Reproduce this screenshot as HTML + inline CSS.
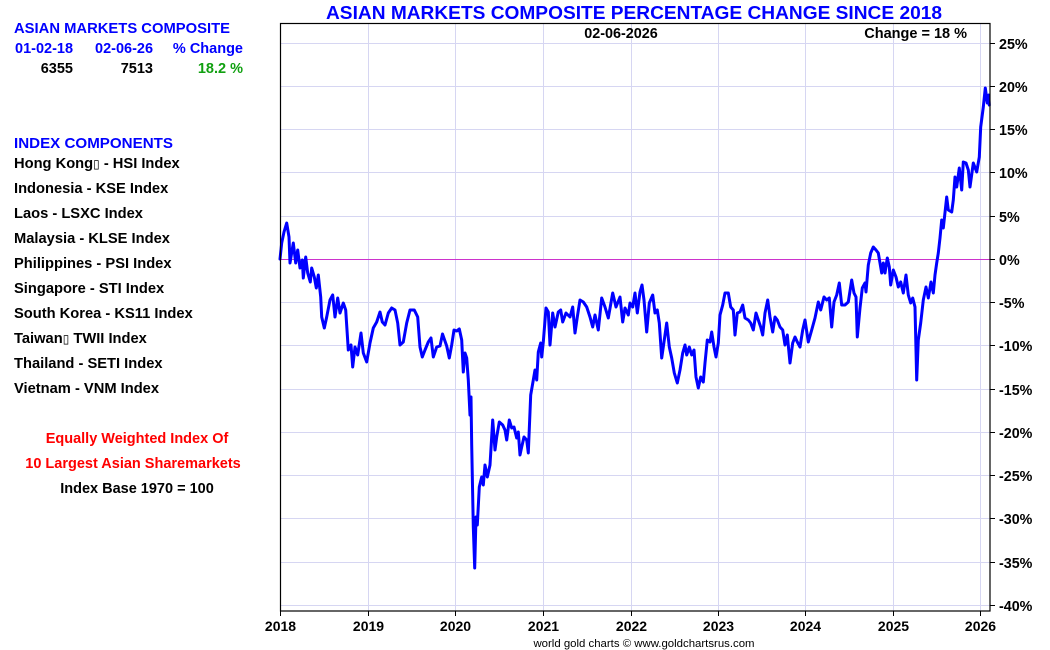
<!DOCTYPE html>
<html>
<head>
<meta charset="utf-8">
<style>
  html,body{margin:0;padding:0;background:#fff;}
  svg{display:block;}
  text{font-family:"Liberation Sans",Arial,sans-serif;}
</style>
</head>
<body>
<svg width="1050" height="650" viewBox="0 0 1050 650" xmlns="http://www.w3.org/2000/svg">
  <rect x="0" y="0" width="1050" height="650" fill="#fff"/>

  <!-- Left panel -->
  <g font-weight="bold">
    <text x="14" y="33" font-size="15" fill="#0000ff" textLength="216" lengthAdjust="spacingAndGlyphs">ASIAN MARKETS COMPOSITE</text>
    <text x="15" y="53" font-size="14.5" fill="#0000ff">01-02-18</text>
    <text x="95" y="53" font-size="14.5" fill="#0000ff">02-06-26</text>
    <text x="243" y="53" font-size="14.5" fill="#0000ff" text-anchor="end">% Change</text>
    <text x="73" y="73" font-size="14.5" fill="#000" text-anchor="end">6355</text>
    <text x="153" y="73" font-size="14.5" fill="#000" text-anchor="end">7513</text>
    <text x="243" y="73" font-size="14.5" fill="#10a010" text-anchor="end">18.2 %</text>

    <text x="14" y="148" font-size="15" fill="#0000ff" textLength="159" lengthAdjust="spacingAndGlyphs">INDEX COMPONENTS</text>
    <g font-size="14.7" fill="#000">
      <text x="14" y="168">Hong Kong<tspan font-family="DejaVu Sans" font-weight="normal" font-size="12">▯</tspan> - HSI Index</text>
      <text x="14" y="193">Indonesia - KSE Index</text>
      <text x="14" y="218">Laos - LSXC Index</text>
      <text x="14" y="243">Malaysia - KLSE Index</text>
      <text x="14" y="268">Philippines - PSI Index</text>
      <text x="14" y="293">Singapore - STI Index</text>
      <text x="14" y="318">South Korea - KS11 Index</text>
      <text x="14" y="343">Taiwan<tspan font-family="DejaVu Sans" font-weight="normal" font-size="12">▯</tspan> TWII Index</text>
      <text x="14" y="368">Thailand - SETI Index</text>
      <text x="14" y="393">Vietnam - VNM Index</text>
    </g>
    <text x="137" y="443" font-size="14.5" fill="#ff0000" text-anchor="middle">Equally Weighted Index Of</text>
    <text x="133" y="468" font-size="14.5" fill="#ff0000" text-anchor="middle">10 Largest Asian Sharemarkets</text>
    <text x="137" y="493" font-size="14.5" fill="#000" text-anchor="middle">Index Base 1970 = 100</text>
  </g>

  <!-- Title -->
  <text x="326" y="19" font-size="18" font-weight="bold" fill="#0000ff" textLength="616" lengthAdjust="spacingAndGlyphs">ASIAN MARKETS COMPOSITE PERCENTAGE CHANGE SINCE 2018</text>

  <!-- Grid -->
  <g stroke="#d6d6f2" stroke-width="1">
    <line x1="280" y1="43.5" x2="990" y2="43.5"/>
    <line x1="280" y1="86.5" x2="990" y2="86.5"/>
    <line x1="280" y1="129.5" x2="990" y2="129.5"/>
    <line x1="280" y1="172.5" x2="990" y2="172.5"/>
    <line x1="280" y1="216.5" x2="990" y2="216.5"/>
    <line x1="280" y1="302.5" x2="990" y2="302.5"/>
    <line x1="280" y1="345.5" x2="990" y2="345.5"/>
    <line x1="280" y1="389.5" x2="990" y2="389.5"/>
    <line x1="280" y1="432.5" x2="990" y2="432.5"/>
    <line x1="280" y1="475.5" x2="990" y2="475.5"/>
    <line x1="280" y1="518.5" x2="990" y2="518.5"/>
    <line x1="280" y1="562.5" x2="990" y2="562.5"/>
    <line x1="280" y1="605.5" x2="990" y2="605.5"/>
    <line x1="368.5" y1="23" x2="368.5" y2="611"/>
    <line x1="455.5" y1="23" x2="455.5" y2="611"/>
    <line x1="543.5" y1="23" x2="543.5" y2="611"/>
    <line x1="631.5" y1="23" x2="631.5" y2="611"/>
    <line x1="718.5" y1="23" x2="718.5" y2="611"/>
    <line x1="805.5" y1="23" x2="805.5" y2="611"/>
    <line x1="893.5" y1="23" x2="893.5" y2="611"/>
    <line x1="980.5" y1="23" x2="980.5" y2="611"/>
  </g>
  <!-- zero line -->
  <line x1="280" y1="259.5" x2="994" y2="259.5" stroke="#cc33cc" stroke-width="1"/>

  <!-- In-chart labels -->
  <text x="621" y="38" font-size="14.4" font-weight="bold" fill="#000" text-anchor="middle">02-06-2026</text>
  <text x="967" y="38" font-size="14.5" font-weight="bold" fill="#000" text-anchor="end">Change = 18 %</text>

  <!-- Data -->
  <polyline fill="none" stroke="#0000ff" stroke-width="3" stroke-linejoin="round" stroke-linecap="round" points="
280,259 281.7,243 284,232 286.7,223 289,237 290,263 293.3,243 295.7,263 297.7,250 300,268 302.3,260 303.3,278 305.7,257 307.7,273 310.3,282 311.7,268 314.3,277 316.3,288 318.3,275 320.7,297 321.7,317 324.3,328 326.7,317 330,300 332.7,295 335,317 337.7,298 340,313 343.3,303 345.7,310 348.3,350 351,345 352.7,367 355,347 357.7,355 361,333 363.3,353 366.7,362 370,343 373.3,328 376.7,322 380,312 382.3,322 385,325 388.3,313 391.7,308 395,310 397.7,323 400,345 403.3,342 406.7,323 410,310 414.3,310 417.7,317 420,347 422.3,357 425,350 428.3,342 431,338 433.3,357 436.7,347 440,346 442.5,334 446.7,346 449.3,358 451.7,345 454,330 456.7,331 459.3,329 461.7,340 463.3,372 465,353 466.7,358 468.3,380 470,415 471,397 471.7,445 473.3,527 474.7,568 476,517 477.3,525 479.3,487 481.7,477 483.3,485 485,465 487.3,477 490,465 492.7,420 495,450 496.7,437 499.3,422 502.7,425 505,430 506.7,440 509.3,420 511.7,428 514,427 516.7,438 518.3,432 520,455 521.7,447 524,437 526.7,440 528.3,453 530.7,395 533.3,380 535,370 536.7,380 538.3,352 540.7,343 541.7,357 543.3,342 546,308 548.3,312 550,345 552.7,313 555,327 558.3,312 560.7,310 562.7,322 566,313 570,317 572.7,307 575,333 577.3,317 580,300 583.3,302 586.7,307 590,317 592.7,327 595,315 598.3,330 601.7,298 605,307 608.3,318 612.7,293 616,307 620,297 622.7,322 625,308 628.3,315 630,303 632.7,307 635,293 637.3,313 640,292 642,285 644,300 646.7,332 649.3,303 652.7,295 655,313 657.3,310 659.3,323 661.7,358 664,342 666.7,323 669.3,347 671.7,358 674.3,373 677.3,383 680,370 682.7,353 685,345 686.7,355 689.3,347 691.7,355 694,350 696,377 698.3,388 700.7,377 703.3,382 705,363 707.3,340 710,342 711.7,332 714,347 716,357 718.3,343 720,315 722.7,305 725,293 728.3,293 730.7,307 733.3,310 735,335 737.3,313 740,312 742.7,305 745,318 748.3,320 750.7,323 753.3,330 756,313 758.3,320 760.7,327 762.7,335 765,313 767.7,300 770,317 772.7,332 775,317 777.3,320 780,327 782.7,330 785,345 787.3,335 790,363 792.7,343 795,337 797.3,342 800,347 802.7,330 805,320 808.3,342 811.7,330 815,318 818.3,302 820.7,310 824,297 826.7,300 829.3,298 831.7,327 834,302 836.7,295 839.3,283 841.7,305 845,305 848.3,302 851.7,280 854,293 856,297 857.3,337 860,308 862.3,288 865,283 866,292 868.3,265 870.7,253 873.3,247 876,250 878.3,253 880,263 881.7,273 883.3,263 885,273 887.3,258 889.3,267 890.7,285 893.3,270 896,277 898.3,287 900.7,282 903.3,293 906,275 908.3,295 910.7,303 912.7,298 915,307 916.7,380 918.3,340 920.7,323 923.3,300 926,287 928.3,298 931,282 933.3,293 935,275 936.7,263 938.3,253 940,238 941.7,220 943.3,228 946.7,197 948.3,210 951.7,212 953.3,200 955,177 956.7,187 959.3,168 961.7,190 963.3,162 966,163 968.3,170 970,187 973.3,163 976.7,172 979.3,157 980.7,127 983.3,107 985.3,88 987.3,103 988.7,95 989.3,105"/>

  <!-- Frame -->
  <rect x="280.5" y="23.5" width="709.5" height="587.5" fill="none" stroke="#000" stroke-width="1.2"/>

  <!-- Right ticks -->
  <g stroke="#000" stroke-width="1">
    <line x1="990" y1="43.5" x2="995" y2="43.5"/>
    <line x1="990" y1="86.5" x2="995" y2="86.5"/>
    <line x1="990" y1="129.5" x2="995" y2="129.5"/>
    <line x1="990" y1="172.5" x2="995" y2="172.5"/>
    <line x1="990" y1="216.5" x2="995" y2="216.5"/>
    <line x1="990" y1="259.5" x2="995" y2="259.5"/>
    <line x1="990" y1="302.5" x2="995" y2="302.5"/>
    <line x1="990" y1="345.5" x2="995" y2="345.5"/>
    <line x1="990" y1="389.5" x2="995" y2="389.5"/>
    <line x1="990" y1="432.5" x2="995" y2="432.5"/>
    <line x1="990" y1="475.5" x2="995" y2="475.5"/>
    <line x1="990" y1="518.5" x2="995" y2="518.5"/>
    <line x1="990" y1="562.5" x2="995" y2="562.5"/>
    <line x1="990" y1="605.5" x2="995" y2="605.5"/>
    <!-- bottom ticks -->
    <line x1="280.5" y1="611" x2="280.5" y2="616"/>
    <line x1="368.5" y1="611" x2="368.5" y2="616"/>
    <line x1="455.5" y1="611" x2="455.5" y2="616"/>
    <line x1="543.5" y1="611" x2="543.5" y2="616"/>
    <line x1="631.5" y1="611" x2="631.5" y2="616"/>
    <line x1="718.5" y1="611" x2="718.5" y2="616"/>
    <line x1="805.5" y1="611" x2="805.5" y2="616"/>
    <line x1="893.5" y1="611" x2="893.5" y2="616"/>
    <line x1="980.5" y1="611" x2="980.5" y2="616"/>
  </g>

  <!-- Right axis labels -->
  <g font-size="14.3" font-weight="bold" fill="#000">
    <text x="999" y="49">25%</text>
    <text x="999" y="92">20%</text>
    <text x="999" y="135">15%</text>
    <text x="999" y="178">10%</text>
    <text x="999" y="222">5%</text>
    <text x="999" y="265">0%</text>
    <text x="999" y="308">-5%</text>
    <text x="999" y="351">-10%</text>
    <text x="999" y="395">-15%</text>
    <text x="999" y="438">-20%</text>
    <text x="999" y="481">-25%</text>
    <text x="999" y="524">-30%</text>
    <text x="999" y="568">-35%</text>
    <text x="999" y="611">-40%</text>
  </g>

  <!-- Year labels -->
  <g font-size="14" font-weight="bold" fill="#000" text-anchor="middle">
    <text x="280.5" y="631">2018</text>
    <text x="368.5" y="631">2019</text>
    <text x="455.5" y="631">2020</text>
    <text x="543.5" y="631">2021</text>
    <text x="631.5" y="631">2022</text>
    <text x="718.5" y="631">2023</text>
    <text x="805.5" y="631">2024</text>
    <text x="893.5" y="631">2025</text>
    <text x="980.5" y="631">2026</text>
  </g>

  <!-- Footer -->
  <text x="644" y="647" font-size="11.4" fill="#000" text-anchor="middle">world gold charts © www.goldchartsrus.com</text>
</svg>
</body>
</html>
